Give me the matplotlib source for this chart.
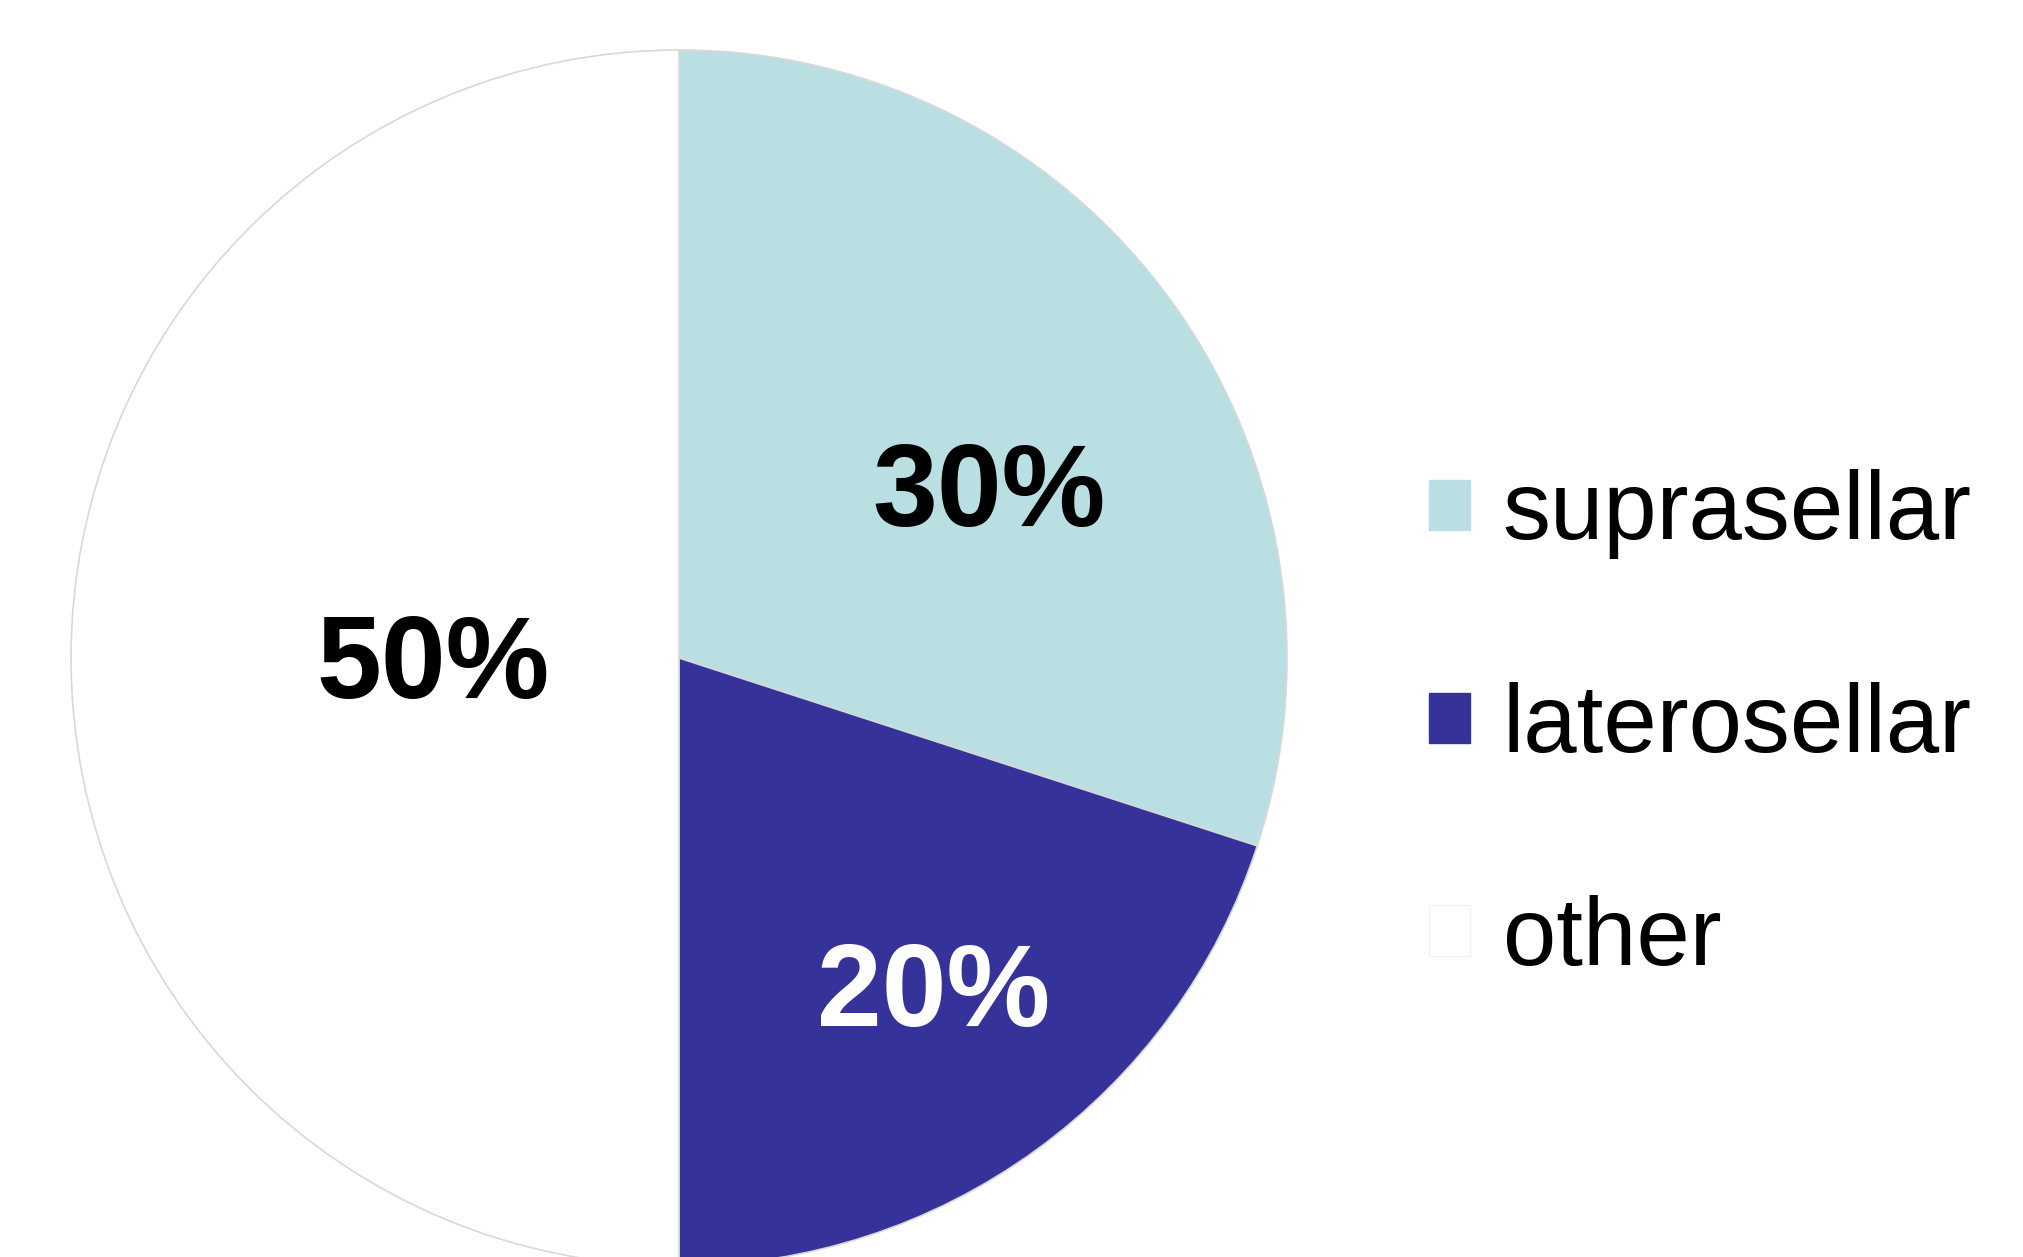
import matplotlib
matplotlib.use("Agg")
import matplotlib.pyplot as plt
from matplotlib.patches import Patch
import numpy as np

categories = ["suprasellar", "laterosellar", "other"]
values = [30, 20, 50]
colors = ["#B9DFE3", "#353399", "#FFFFFF"]
label_colors = ["black", "white", "black"]
# label positions (radial fraction, angle deg) per wedge
label_pos = [(0.575, 27.7), (0.695, -53.0), (0.405, 182.3)]

plt.rcParams['font.family'] = ['Liberation Sans', 'DejaVu Sans']

W, H = 2023, 1257
fig = plt.figure(figsize=(W / 100, H / 100), dpi=100)
cx, cy, r = 679, 658, 608
ax = fig.add_axes([(cx - r) / W, (H - cy - r) / H, 2 * r / W, 2 * r / H])
wedges, _ = ax.pie(values, colors=colors, startangle=90, counterclock=False,
                   radius=1.0, wedgeprops=dict(edgecolor="#D8D8D8", linewidth=1.2))
ax.set_xlim(-1, 1)
ax.set_ylim(-1, 1)
ax.set_aspect("equal")
ax.axis("off")

for v, (rr, ang), c in zip(values, label_pos, label_colors):
    a = np.deg2rad(ang)
    ax.text(rr * np.cos(a), rr * np.sin(a), f"{v}%", ha="center", va="center",
            fontsize=84, fontweight="bold", color=c)

handles = [Patch(facecolor=col, edgecolor="#F2F2F2" if col == "#FFFFFF" else col, linewidth=1)
           for col in colors]
fig.legend(handles, categories, loc="center left", bbox_to_anchor=(1429 / W, 1 - 727 / H),
           frameon=False, fontsize=69, handlelength=0.43, handleheight=0.43,
           handletextpad=0.34, labelspacing=1.28, borderpad=0, borderaxespad=0)

fig.savefig("out.png", dpi=100)
